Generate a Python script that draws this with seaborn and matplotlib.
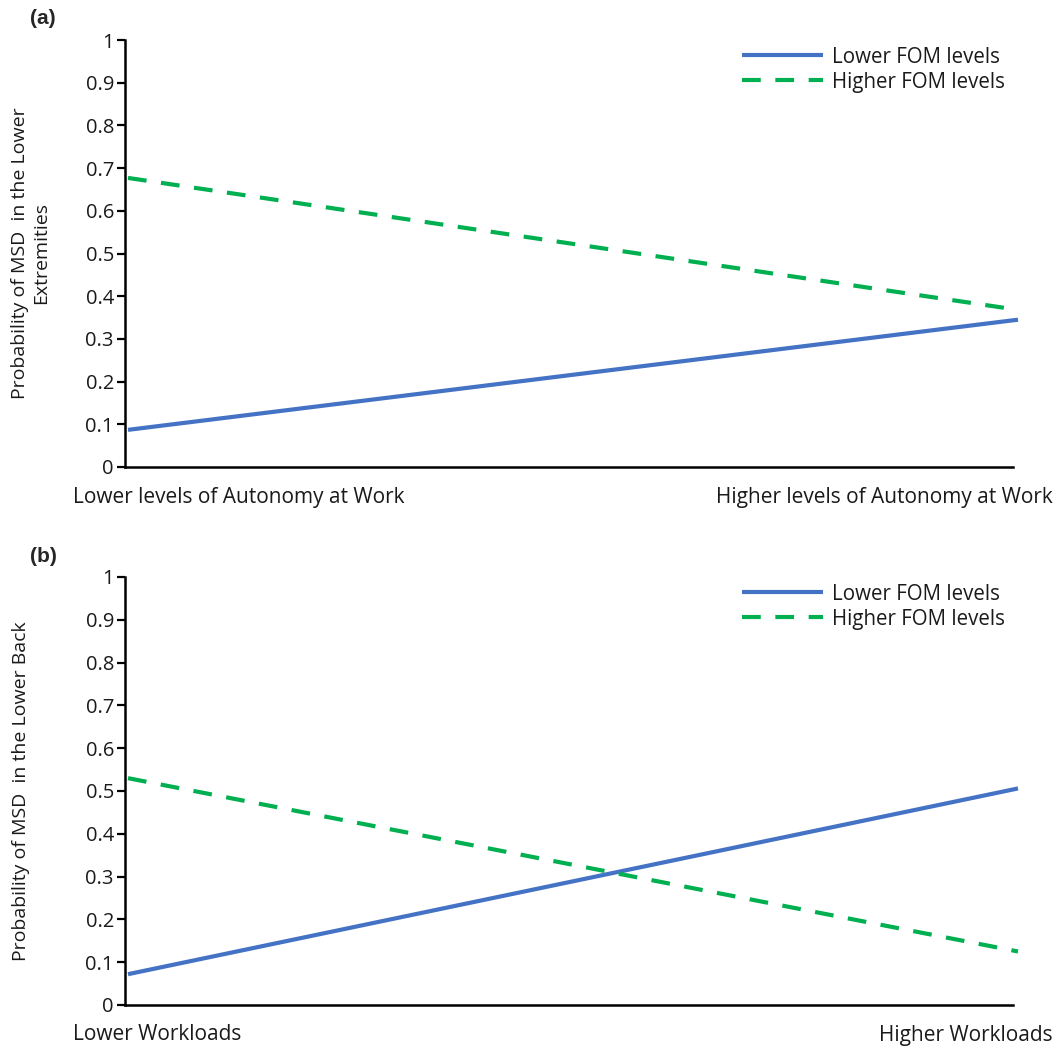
import pandas as pd
import seaborn as sns
import matplotlib.pyplot as plt

# x positions: low / high level of the moderator
levels = [0, 1]
series_names = ["Lower FOM levels", "Higher FOM levels"]

a_lower_fom = [0.087, 0.345]
a_higher_fom = [0.677, 0.368]
b_lower_fom = [0.072, 0.506]
b_higher_fom = [0.530, 0.125]

a_xlabels = ["Lower levels of Autonomy at Work", "Higher levels of Autonomy at Work"]
b_xlabels = ["Lower Workloads", "Higher Workloads"]
a_ylabel = "Probability of MSD  in the Lower\nExtremities"
b_ylabel = "Probability of MSD  in the Lower Back"
yticks = [0, 0.1, 0.2, 0.3, 0.4, 0.5, 0.6, 0.7, 0.8, 0.9, 1]
ytick_labels = ["0", "0.1", "0.2", "0.3", "0.4", "0.5", "0.6", "0.7", "0.8", "0.9", "1"]


def make_df(lower, higher):
    return pd.DataFrame({
        "x": levels * 2,
        "p": lower + higher,
        "FOM": [series_names[0]] * 2 + [series_names[1]] * 2,
    })


sns.set_style("white")
plt.rcParams["font.family"] = ["Open Sans", "DejaVu Sans"]

W, H = 1059, 1048
fig = plt.figure(figsize=(W / 100, H / 100), dpi=100)
palette = {series_names[0]: "#4472C4", series_names[1]: "#00B050"}
dashes = {series_names[0]: "", series_names[1]: (4.5, 3.5)}

panels = [
    ("(a)", make_df(a_lower_fom, a_higher_fom), a_xlabels, a_ylabel, 40, 467, 18, -0.0845),
    ("(b)", make_df(b_lower_fom, b_higher_fom), b_xlabels, b_ylabel, 577, 1005, 556, -0.107),
]
for tag, df, xlabels, ylabel, ytop, ybot, ytag, ylab_x in panels:
    ax = fig.add_axes([125 / W, 1 - ybot / H, (1013 - 125) / W, (ybot - ytop) / H])
    sns.lineplot(data=df, x="x", y="p", hue="FOM", style="FOM", palette=palette,
                 dashes=dashes, linewidth=3, ax=ax)
    for ln in ax.lines:
        ln.set_clip_on(False)
        ln.set_solid_capstyle("butt")
        ln.set_dash_capstyle("butt")
    ax.set_xlim(-3 / 890, 885 / 890)
    ax.set_ylim(0, 1)
    ax.set_yticks(yticks)
    ax.set_yticklabels(ytick_labels, fontsize=14.5)
    ax.set_xticks([])
    ax.set_xlabel("")
    ax.set_ylabel(ylabel, fontsize=14, color="#1a1a1a")
    ax.yaxis.set_label_coords(ylab_x, 0.5)
    ax.tick_params(axis="y", direction="out", length=6, width=1.6, color="black",
                   left=True, pad=2, labelcolor="#1a1a1a")
    sns.despine(ax=ax)
    for s in ["left", "bottom"]:
        ax.spines[s].set_linewidth(1.8)
        ax.spines[s].set_color("black")
    leg = ax.legend(frameon=False, loc="upper right", bbox_to_anchor=(1.0, 1.004),
                    fontsize=14.8, handlelength=3.95, handletextpad=0.43,
                    labelspacing=0.2, borderaxespad=0)
    for h in leg.get_lines():
        h.set_linewidth(3)
    for t in leg.get_texts():
        t.set_color("#1a1a1a")
    fig.text(73 / W, 1 - (ybot + 30) / H, xlabels[0], ha="left", va="center",
             fontsize=15, color="#1a1a1a")
    fig.text(1053 / W, 1 - (ybot + 30) / H, xlabels[1], ha="right", va="center",
             fontsize=15, color="#1a1a1a")
    fig.text(30 / W, 1 - ytag / H, tag, ha="left", va="center", fontsize=15,
             fontweight="bold", family="Liberation Sans")

fig.savefig("out.png", dpi=100)
